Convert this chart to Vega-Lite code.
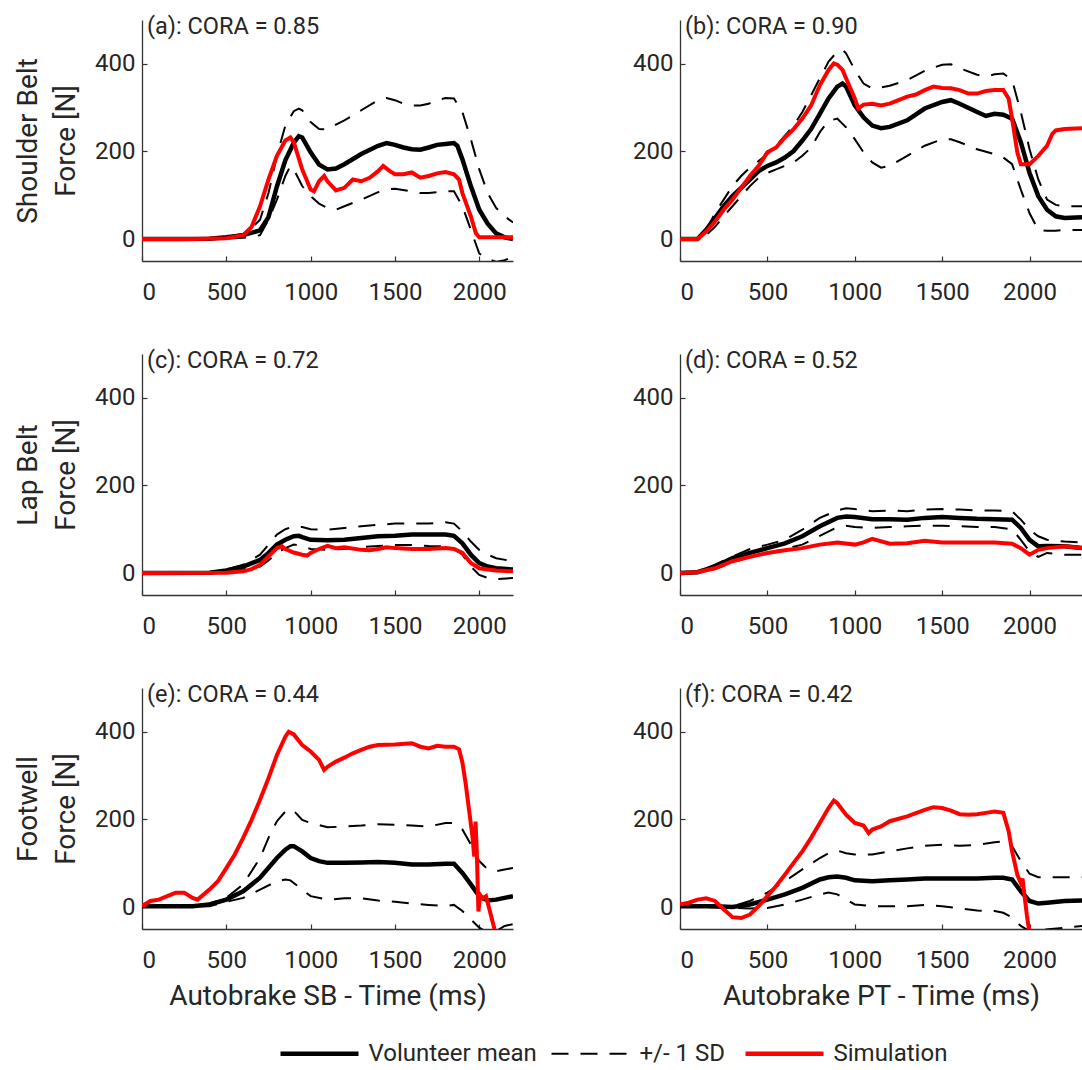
{
  "$schema": "https://vega.github.io/schema/vega-lite/v6.json",
  "padding": {"left": 14, "top": 15, "right": 0, "bottom": 0},
  "background": "white",
  "config": {
    "font": "Roboto",
    "view": {"stroke": null},
    "axis": {"grid": false, "format": "d", "domainColor": "#333333", "domainWidth": 1.3, "tickColor": "#333333", "tickWidth": 1.2, "tickSize": -5, "labelColor": "#262626", "labelFontSize": 24, "labelFont": "Roboto", "titleColor": "#262626", "titleFont": "Roboto", "titleFontSize": 28, "titleFontWeight": "normal"},
    "axisX": {"labelPadding": 24, "titlePadding": 10},
    "axisY": {"labelPadding": 12, "titlePadding": 14, "titleLineHeight": 38},
    "legend": {"title": null, "labelFontSize": 24, "labelFont": "Roboto", "labelColor": "#262626", "labelLimit": 300, "symbolType": "M-3.9,0H3.9", "symbolSize": 400, "columnPadding": 10, "labelOffset": 36.5}
  },
  "datasets": {
    "labels": [
      {"p": "a", "label": "(a): CORA = 0.85"},
      {"p": "b", "label": "(b): CORA = 0.90"},
      {"p": "c", "label": "(c): CORA = 0.72"},
      {"p": "d", "label": "(d): CORA = 0.52"},
      {"p": "e", "label": "(e): CORA = 0.44"},
      {"p": "f", "label": "(f): CORA = 0.42"}
    ],
    "forces": [
      {"p":"a","s":"sd","b":"hi","t":0,"f":0},{"p":"a","s":"sd","b":"hi","t":400,"f":2},{"p":"a","s":"sd","b":"hi","t":500,"f":5},{"p":"a","s":"sd","b":"hi","t":600,"f":12},{"p":"a","s":"sd","b":"hi","t":650,"f":25},{"p":"a","s":"sd","b":"hi","t":700,"f":44},{"p":"a","s":"sd","b":"hi","t":750,"f":105},{"p":"a","s":"sd","b":"hi","t":800,"f":190},{"p":"a","s":"sd","b":"hi","t":850,"f":259},{"p":"a","s":"sd","b":"hi","t":900,"f":292},{"p":"a","s":"sd","b":"hi","t":930,"f":298},{"p":"a","s":"sd","b":"hi","t":950,"f":294},{"p":"a","s":"sd","b":"hi","t":1000,"f":267},{"p":"a","s":"sd","b":"hi","t":1050,"f":251},{"p":"a","s":"sd","b":"hi","t":1100,"f":250},{"p":"a","s":"sd","b":"hi","t":1150,"f":261},{"p":"a","s":"sd","b":"hi","t":1200,"f":271},{"p":"a","s":"sd","b":"hi","t":1300,"f":294},{"p":"a","s":"sd","b":"hi","t":1400,"f":317},{"p":"a","s":"sd","b":"hi","t":1450,"f":322},{"p":"a","s":"sd","b":"hi","t":1500,"f":317},{"p":"a","s":"sd","b":"hi","t":1550,"f":309},{"p":"a","s":"sd","b":"hi","t":1600,"f":305},{"p":"a","s":"sd","b":"hi","t":1650,"f":305},{"p":"a","s":"sd","b":"hi","t":1700,"f":309},{"p":"a","s":"sd","b":"hi","t":1750,"f":317},{"p":"a","s":"sd","b":"hi","t":1800,"f":322},{"p":"a","s":"sd","b":"hi","t":1850,"f":321},{"p":"a","s":"sd","b":"hi","t":1900,"f":290},{"p":"a","s":"sd","b":"hi","t":1950,"f":228},{"p":"a","s":"sd","b":"hi","t":2000,"f":159},{"p":"a","s":"sd","b":"hi","t":2050,"f":105},{"p":"a","s":"sd","b":"hi","t":2100,"f":71},{"p":"a","s":"sd","b":"hi","t":2150,"f":52},{"p":"a","s":"sd","b":"hi","t":2200,"f":38},
      {"p":"a","s":"sd","b":"lo","t":0,"f":0},{"p":"a","s":"sd","b":"lo","t":500,"f":1},{"p":"a","s":"sd","b":"lo","t":600,"f":3},{"p":"a","s":"sd","b":"lo","t":650,"f":5},{"p":"a","s":"sd","b":"lo","t":700,"f":9},{"p":"a","s":"sd","b":"lo","t":750,"f":44},{"p":"a","s":"sd","b":"lo","t":800,"f":90},{"p":"a","s":"sd","b":"lo","t":850,"f":144},{"p":"a","s":"sd","b":"lo","t":880,"f":167},{"p":"a","s":"sd","b":"lo","t":900,"f":159},{"p":"a","s":"sd","b":"lo","t":950,"f":121},{"p":"a","s":"sd","b":"lo","t":1000,"f":98},{"p":"a","s":"sd","b":"lo","t":1050,"f":81},{"p":"a","s":"sd","b":"lo","t":1100,"f":71},{"p":"a","s":"sd","b":"lo","t":1150,"f":67},{"p":"a","s":"sd","b":"lo","t":1200,"f":75},{"p":"a","s":"sd","b":"lo","t":1300,"f":90},{"p":"a","s":"sd","b":"lo","t":1400,"f":107},{"p":"a","s":"sd","b":"lo","t":1450,"f":113},{"p":"a","s":"sd","b":"lo","t":1500,"f":115},{"p":"a","s":"sd","b":"lo","t":1600,"f":109},{"p":"a","s":"sd","b":"lo","t":1650,"f":105},{"p":"a","s":"sd","b":"lo","t":1700,"f":105},{"p":"a","s":"sd","b":"lo","t":1800,"f":109},{"p":"a","s":"sd","b":"lo","t":1850,"f":109},{"p":"a","s":"sd","b":"lo","t":1900,"f":75},{"p":"a","s":"sd","b":"lo","t":1950,"f":21},{"p":"a","s":"sd","b":"lo","t":2000,"f":-33},{"p":"a","s":"sd","b":"lo","t":2050,"f":-45},{"p":"a","s":"sd","b":"lo","t":2100,"f":-52},{"p":"a","s":"sd","b":"lo","t":2150,"f":-48},{"p":"a","s":"sd","b":"lo","t":2200,"f":-41},
      {"p":"a","s":"mean","t":0,"f":0},{"p":"a","s":"mean","t":200,"f":0},{"p":"a","s":"mean","t":400,"f":1},{"p":"a","s":"mean","t":500,"f":4},{"p":"a","s":"mean","t":600,"f":9},{"p":"a","s":"mean","t":700,"f":20},{"p":"a","s":"mean","t":750,"f":50},{"p":"a","s":"mean","t":800,"f":120},{"p":"a","s":"mean","t":850,"f":180},{"p":"a","s":"mean","t":900,"f":220},{"p":"a","s":"mean","t":930,"f":235},{"p":"a","s":"mean","t":950,"f":232},{"p":"a","s":"mean","t":1000,"f":198},{"p":"a","s":"mean","t":1050,"f":170},{"p":"a","s":"mean","t":1100,"f":159},{"p":"a","s":"mean","t":1150,"f":161},{"p":"a","s":"mean","t":1200,"f":171},{"p":"a","s":"mean","t":1300,"f":194},{"p":"a","s":"mean","t":1400,"f":213},{"p":"a","s":"mean","t":1450,"f":219},{"p":"a","s":"mean","t":1500,"f":215},{"p":"a","s":"mean","t":1550,"f":209},{"p":"a","s":"mean","t":1600,"f":205},{"p":"a","s":"mean","t":1650,"f":204},{"p":"a","s":"mean","t":1700,"f":209},{"p":"a","s":"mean","t":1750,"f":215},{"p":"a","s":"mean","t":1800,"f":217},{"p":"a","s":"mean","t":1850,"f":219},{"p":"a","s":"mean","t":1870,"f":213},{"p":"a","s":"mean","t":1900,"f":182},{"p":"a","s":"mean","t":1950,"f":121},{"p":"a","s":"mean","t":2000,"f":67},{"p":"a","s":"mean","t":2050,"f":35},{"p":"a","s":"mean","t":2100,"f":13},{"p":"a","s":"mean","t":2150,"f":4},{"p":"a","s":"mean","t":2200,"f":0},
      {"p":"a","s":"sim","t":0,"f":0},{"p":"a","s":"sim","t":300,"f":0},{"p":"a","s":"sim","t":500,"f":2},{"p":"a","s":"sim","t":600,"f":9},{"p":"a","s":"sim","t":650,"f":28},{"p":"a","s":"sim","t":700,"f":75},{"p":"a","s":"sim","t":750,"f":136},{"p":"a","s":"sim","t":800,"f":190},{"p":"a","s":"sim","t":850,"f":225},{"p":"a","s":"sim","t":880,"f":232},{"p":"a","s":"sim","t":900,"f":221},{"p":"a","s":"sim","t":950,"f":159},{"p":"a","s":"sim","t":1000,"f":113},{"p":"a","s":"sim","t":1020,"f":109},{"p":"a","s":"sim","t":1050,"f":132},{"p":"a","s":"sim","t":1080,"f":144},{"p":"a","s":"sim","t":1100,"f":132},{"p":"a","s":"sim","t":1150,"f":111},{"p":"a","s":"sim","t":1200,"f":117},{"p":"a","s":"sim","t":1250,"f":136},{"p":"a","s":"sim","t":1300,"f":132},{"p":"a","s":"sim","t":1350,"f":140},{"p":"a","s":"sim","t":1400,"f":155},{"p":"a","s":"sim","t":1430,"f":167},{"p":"a","s":"sim","t":1470,"f":155},{"p":"a","s":"sim","t":1500,"f":148},{"p":"a","s":"sim","t":1550,"f":148},{"p":"a","s":"sim","t":1600,"f":152},{"p":"a","s":"sim","t":1650,"f":140},{"p":"a","s":"sim","t":1700,"f":144},{"p":"a","s":"sim","t":1750,"f":150},{"p":"a","s":"sim","t":1800,"f":153},{"p":"a","s":"sim","t":1850,"f":148},{"p":"a","s":"sim","t":1880,"f":136},{"p":"a","s":"sim","t":1900,"f":105},{"p":"a","s":"sim","t":1950,"f":52},{"p":"a","s":"sim","t":1980,"f":13},{"p":"a","s":"sim","t":2000,"f":4},{"p":"a","s":"sim","t":2200,"f":4},

      {"p":"b","s":"sd","b":"hi","t":0,"f":0},{"p":"b","s":"sd","b":"hi","t":100,"f":0},{"p":"b","s":"sd","b":"hi","t":150,"f":21},{"p":"b","s":"sd","b":"hi","t":200,"f":59},{"p":"b","s":"sd","b":"hi","t":250,"f":90},{"p":"b","s":"sd","b":"hi","t":300,"f":121},{"p":"b","s":"sd","b":"hi","t":350,"f":144},{"p":"b","s":"sd","b":"hi","t":400,"f":163},{"p":"b","s":"sd","b":"hi","t":450,"f":178},{"p":"b","s":"sd","b":"hi","t":500,"f":194},{"p":"b","s":"sd","b":"hi","t":550,"f":213},{"p":"b","s":"sd","b":"hi","t":600,"f":236},{"p":"b","s":"sd","b":"hi","t":650,"f":259},{"p":"b","s":"sd","b":"hi","t":700,"f":290},{"p":"b","s":"sd","b":"hi","t":750,"f":328},{"p":"b","s":"sd","b":"hi","t":800,"f":367},{"p":"b","s":"sd","b":"hi","t":850,"f":405},{"p":"b","s":"sd","b":"hi","t":900,"f":428},{"p":"b","s":"sd","b":"hi","t":930,"f":432},{"p":"b","s":"sd","b":"hi","t":950,"f":424},{"p":"b","s":"sd","b":"hi","t":1000,"f":386},{"p":"b","s":"sd","b":"hi","t":1050,"f":355},{"p":"b","s":"sd","b":"hi","t":1100,"f":344},{"p":"b","s":"sd","b":"hi","t":1150,"f":346},{"p":"b","s":"sd","b":"hi","t":1200,"f":350},{"p":"b","s":"sd","b":"hi","t":1300,"f":363},{"p":"b","s":"sd","b":"hi","t":1400,"f":384},{"p":"b","s":"sd","b":"hi","t":1500,"f":398},{"p":"b","s":"sd","b":"hi","t":1550,"f":399},{"p":"b","s":"sd","b":"hi","t":1600,"f":390},{"p":"b","s":"sd","b":"hi","t":1700,"f":375},{"p":"b","s":"sd","b":"hi","t":1750,"f":371},{"p":"b","s":"sd","b":"hi","t":1800,"f":376},{"p":"b","s":"sd","b":"hi","t":1850,"f":378},{"p":"b","s":"sd","b":"hi","t":1900,"f":363},{"p":"b","s":"sd","b":"hi","t":1950,"f":290},{"p":"b","s":"sd","b":"hi","t":2000,"f":205},{"p":"b","s":"sd","b":"hi","t":2050,"f":136},{"p":"b","s":"sd","b":"hi","t":2100,"f":90},{"p":"b","s":"sd","b":"hi","t":2150,"f":78},{"p":"b","s":"sd","b":"hi","t":2200,"f":75},{"p":"b","s":"sd","b":"hi","t":2300,"f":75},
      {"p":"b","s":"sd","b":"lo","t":0,"f":0},{"p":"b","s":"sd","b":"lo","t":100,"f":0},{"p":"b","s":"sd","b":"lo","t":150,"f":9},{"p":"b","s":"sd","b":"lo","t":200,"f":28},{"p":"b","s":"sd","b":"lo","t":250,"f":52},{"p":"b","s":"sd","b":"lo","t":300,"f":75},{"p":"b","s":"sd","b":"lo","t":350,"f":98},{"p":"b","s":"sd","b":"lo","t":400,"f":121},{"p":"b","s":"sd","b":"lo","t":450,"f":140},{"p":"b","s":"sd","b":"lo","t":500,"f":151},{"p":"b","s":"sd","b":"lo","t":550,"f":159},{"p":"b","s":"sd","b":"lo","t":600,"f":167},{"p":"b","s":"sd","b":"lo","t":650,"f":175},{"p":"b","s":"sd","b":"lo","t":700,"f":190},{"p":"b","s":"sd","b":"lo","t":750,"f":209},{"p":"b","s":"sd","b":"lo","t":800,"f":244},{"p":"b","s":"sd","b":"lo","t":850,"f":270},{"p":"b","s":"sd","b":"lo","t":900,"f":275},{"p":"b","s":"sd","b":"lo","t":950,"f":255},{"p":"b","s":"sd","b":"lo","t":1000,"f":228},{"p":"b","s":"sd","b":"lo","t":1050,"f":198},{"p":"b","s":"sd","b":"lo","t":1100,"f":175},{"p":"b","s":"sd","b":"lo","t":1150,"f":163},{"p":"b","s":"sd","b":"lo","t":1200,"f":167},{"p":"b","s":"sd","b":"lo","t":1300,"f":190},{"p":"b","s":"sd","b":"lo","t":1400,"f":213},{"p":"b","s":"sd","b":"lo","t":1500,"f":228},{"p":"b","s":"sd","b":"lo","t":1550,"f":228},{"p":"b","s":"sd","b":"lo","t":1600,"f":221},{"p":"b","s":"sd","b":"lo","t":1700,"f":205},{"p":"b","s":"sd","b":"lo","t":1800,"f":194},{"p":"b","s":"sd","b":"lo","t":1850,"f":186},{"p":"b","s":"sd","b":"lo","t":1900,"f":171},{"p":"b","s":"sd","b":"lo","t":1950,"f":113},{"p":"b","s":"sd","b":"lo","t":2000,"f":59},{"p":"b","s":"sd","b":"lo","t":2050,"f":21},{"p":"b","s":"sd","b":"lo","t":2100,"f":19},{"p":"b","s":"sd","b":"lo","t":2150,"f":19},{"p":"b","s":"sd","b":"lo","t":2200,"f":21},{"p":"b","s":"sd","b":"lo","t":2300,"f":21},
      {"p":"b","s":"mean","t":0,"f":0},{"p":"b","s":"mean","t":100,"f":0},{"p":"b","s":"mean","t":150,"f":21},{"p":"b","s":"mean","t":200,"f":48},{"p":"b","s":"mean","t":250,"f":75},{"p":"b","s":"mean","t":300,"f":98},{"p":"b","s":"mean","t":350,"f":117},{"p":"b","s":"mean","t":400,"f":136},{"p":"b","s":"mean","t":450,"f":155},{"p":"b","s":"mean","t":500,"f":167},{"p":"b","s":"mean","t":550,"f":175},{"p":"b","s":"mean","t":600,"f":186},{"p":"b","s":"mean","t":650,"f":201},{"p":"b","s":"mean","t":700,"f":225},{"p":"b","s":"mean","t":750,"f":251},{"p":"b","s":"mean","t":800,"f":286},{"p":"b","s":"mean","t":850,"f":321},{"p":"b","s":"mean","t":900,"f":348},{"p":"b","s":"mean","t":930,"f":355},{"p":"b","s":"mean","t":950,"f":348},{"p":"b","s":"mean","t":1000,"f":305},{"p":"b","s":"mean","t":1050,"f":278},{"p":"b","s":"mean","t":1100,"f":259},{"p":"b","s":"mean","t":1150,"f":253},{"p":"b","s":"mean","t":1200,"f":256},{"p":"b","s":"mean","t":1300,"f":271},{"p":"b","s":"mean","t":1400,"f":298},{"p":"b","s":"mean","t":1500,"f":313},{"p":"b","s":"mean","t":1550,"f":317},{"p":"b","s":"mean","t":1600,"f":309},{"p":"b","s":"mean","t":1700,"f":290},{"p":"b","s":"mean","t":1750,"f":281},{"p":"b","s":"mean","t":1800,"f":286},{"p":"b","s":"mean","t":1850,"f":284},{"p":"b","s":"mean","t":1900,"f":275},{"p":"b","s":"mean","t":1950,"f":221},{"p":"b","s":"mean","t":2000,"f":151},{"p":"b","s":"mean","t":2050,"f":98},{"p":"b","s":"mean","t":2100,"f":67},{"p":"b","s":"mean","t":2150,"f":52},{"p":"b","s":"mean","t":2200,"f":48},{"p":"b","s":"mean","t":2300,"f":50},
      {"p":"b","s":"sim","t":0,"f":0},{"p":"b","s":"sim","t":100,"f":0},{"p":"b","s":"sim","t":150,"f":17},{"p":"b","s":"sim","t":200,"f":40},{"p":"b","s":"sim","t":250,"f":67},{"p":"b","s":"sim","t":300,"f":90},{"p":"b","s":"sim","t":350,"f":117},{"p":"b","s":"sim","t":400,"f":144},{"p":"b","s":"sim","t":450,"f":167},{"p":"b","s":"sim","t":500,"f":198},{"p":"b","s":"sim","t":550,"f":209},{"p":"b","s":"sim","t":600,"f":232},{"p":"b","s":"sim","t":650,"f":251},{"p":"b","s":"sim","t":700,"f":275},{"p":"b","s":"sim","t":750,"f":305},{"p":"b","s":"sim","t":800,"f":351},{"p":"b","s":"sim","t":850,"f":386},{"p":"b","s":"sim","t":880,"f":401},{"p":"b","s":"sim","t":900,"f":398},{"p":"b","s":"sim","t":930,"f":386},{"p":"b","s":"sim","t":950,"f":367},{"p":"b","s":"sim","t":1000,"f":321},{"p":"b","s":"sim","t":1020,"f":298},{"p":"b","s":"sim","t":1050,"f":307},{"p":"b","s":"sim","t":1100,"f":309},{"p":"b","s":"sim","t":1150,"f":305},{"p":"b","s":"sim","t":1200,"f":309},{"p":"b","s":"sim","t":1250,"f":317},{"p":"b","s":"sim","t":1300,"f":325},{"p":"b","s":"sim","t":1350,"f":330},{"p":"b","s":"sim","t":1400,"f":340},{"p":"b","s":"sim","t":1450,"f":348},{"p":"b","s":"sim","t":1500,"f":345},{"p":"b","s":"sim","t":1550,"f":344},{"p":"b","s":"sim","t":1600,"f":340},{"p":"b","s":"sim","t":1650,"f":332},{"p":"b","s":"sim","t":1700,"f":332},{"p":"b","s":"sim","t":1750,"f":338},{"p":"b","s":"sim","t":1800,"f":340},{"p":"b","s":"sim","t":1850,"f":340},{"p":"b","s":"sim","t":1880,"f":321},{"p":"b","s":"sim","t":1900,"f":275},{"p":"b","s":"sim","t":1930,"f":198},{"p":"b","s":"sim","t":1950,"f":171},{"p":"b","s":"sim","t":2000,"f":171},{"p":"b","s":"sim","t":2050,"f":190},{"p":"b","s":"sim","t":2100,"f":213},{"p":"b","s":"sim","t":2130,"f":240},{"p":"b","s":"sim","t":2150,"f":248},{"p":"b","s":"sim","t":2200,"f":251},{"p":"b","s":"sim","t":2300,"f":253},

      {"p":"c","s":"sd","b":"hi","t":0,"f":0},{"p":"c","s":"sd","b":"hi","t":400,"f":2},{"p":"c","s":"sd","b":"hi","t":500,"f":8},{"p":"c","s":"sd","b":"hi","t":600,"f":19},{"p":"c","s":"sd","b":"hi","t":700,"f":42},{"p":"c","s":"sd","b":"hi","t":750,"f":65},{"p":"c","s":"sd","b":"hi","t":800,"f":88},{"p":"c","s":"sd","b":"hi","t":850,"f":100},{"p":"c","s":"sd","b":"hi","t":900,"f":107},{"p":"c","s":"sd","b":"hi","t":950,"f":105},{"p":"c","s":"sd","b":"hi","t":1000,"f":100},{"p":"c","s":"sd","b":"hi","t":1100,"f":99},{"p":"c","s":"sd","b":"hi","t":1200,"f":103},{"p":"c","s":"sd","b":"hi","t":1300,"f":107},{"p":"c","s":"sd","b":"hi","t":1400,"f":110},{"p":"c","s":"sd","b":"hi","t":1500,"f":113},{"p":"c","s":"sd","b":"hi","t":1600,"f":113},{"p":"c","s":"sd","b":"hi","t":1700,"f":113},{"p":"c","s":"sd","b":"hi","t":1800,"f":116},{"p":"c","s":"sd","b":"hi","t":1850,"f":113},{"p":"c","s":"sd","b":"hi","t":1900,"f":95},{"p":"c","s":"sd","b":"hi","t":1950,"f":72},{"p":"c","s":"sd","b":"hi","t":2000,"f":53},{"p":"c","s":"sd","b":"hi","t":2050,"f":42},{"p":"c","s":"sd","b":"hi","t":2100,"f":34},{"p":"c","s":"sd","b":"hi","t":2200,"f":27},
      {"p":"c","s":"sd","b":"lo","t":0,"f":0},{"p":"c","s":"sd","b":"lo","t":500,"f":3},{"p":"c","s":"sd","b":"lo","t":600,"f":8},{"p":"c","s":"sd","b":"lo","t":700,"f":15},{"p":"c","s":"sd","b":"lo","t":750,"f":29},{"p":"c","s":"sd","b":"lo","t":800,"f":46},{"p":"c","s":"sd","b":"lo","t":850,"f":57},{"p":"c","s":"sd","b":"lo","t":900,"f":65},{"p":"c","s":"sd","b":"lo","t":950,"f":62},{"p":"c","s":"sd","b":"lo","t":1000,"f":55},{"p":"c","s":"sd","b":"lo","t":1100,"f":53},{"p":"c","s":"sd","b":"lo","t":1200,"f":55},{"p":"c","s":"sd","b":"lo","t":1300,"f":59},{"p":"c","s":"sd","b":"lo","t":1400,"f":62},{"p":"c","s":"sd","b":"lo","t":1500,"f":64},{"p":"c","s":"sd","b":"lo","t":1600,"f":64},{"p":"c","s":"sd","b":"lo","t":1700,"f":62},{"p":"c","s":"sd","b":"lo","t":1800,"f":61},{"p":"c","s":"sd","b":"lo","t":1850,"f":57},{"p":"c","s":"sd","b":"lo","t":1900,"f":42},{"p":"c","s":"sd","b":"lo","t":1950,"f":15},{"p":"c","s":"sd","b":"lo","t":2000,"f":-4},{"p":"c","s":"sd","b":"lo","t":2050,"f":-11},{"p":"c","s":"sd","b":"lo","t":2100,"f":-14},{"p":"c","s":"sd","b":"lo","t":2200,"f":-11},
      {"p":"c","s":"mean","t":0,"f":0},{"p":"c","s":"mean","t":400,"f":1},{"p":"c","s":"mean","t":500,"f":6},{"p":"c","s":"mean","t":600,"f":15},{"p":"c","s":"mean","t":700,"f":30},{"p":"c","s":"mean","t":750,"f":46},{"p":"c","s":"mean","t":800,"f":65},{"p":"c","s":"mean","t":850,"f":76},{"p":"c","s":"mean","t":900,"f":84},{"p":"c","s":"mean","t":930,"f":85},{"p":"c","s":"mean","t":950,"f":82},{"p":"c","s":"mean","t":1000,"f":76},{"p":"c","s":"mean","t":1100,"f":75},{"p":"c","s":"mean","t":1200,"f":76},{"p":"c","s":"mean","t":1300,"f":80},{"p":"c","s":"mean","t":1400,"f":84},{"p":"c","s":"mean","t":1500,"f":85},{"p":"c","s":"mean","t":1600,"f":88},{"p":"c","s":"mean","t":1700,"f":88},{"p":"c","s":"mean","t":1800,"f":88},{"p":"c","s":"mean","t":1850,"f":85},{"p":"c","s":"mean","t":1900,"f":68},{"p":"c","s":"mean","t":1950,"f":42},{"p":"c","s":"mean","t":2000,"f":23},{"p":"c","s":"mean","t":2050,"f":15},{"p":"c","s":"mean","t":2100,"f":11},{"p":"c","s":"mean","t":2200,"f":8},
      {"p":"c","s":"sim","t":0,"f":0},{"p":"c","s":"sim","t":500,"f":1},{"p":"c","s":"sim","t":600,"f":4},{"p":"c","s":"sim","t":650,"f":9},{"p":"c","s":"sim","t":700,"f":19},{"p":"c","s":"sim","t":750,"f":38},{"p":"c","s":"sim","t":800,"f":57},{"p":"c","s":"sim","t":830,"f":61},{"p":"c","s":"sim","t":850,"f":55},{"p":"c","s":"sim","t":900,"f":47},{"p":"c","s":"sim","t":950,"f":42},{"p":"c","s":"sim","t":980,"f":40},{"p":"c","s":"sim","t":1000,"f":46},{"p":"c","s":"sim","t":1050,"f":55},{"p":"c","s":"sim","t":1100,"f":62},{"p":"c","s":"sim","t":1150,"f":57},{"p":"c","s":"sim","t":1200,"f":59},{"p":"c","s":"sim","t":1300,"f":53},{"p":"c","s":"sim","t":1350,"f":52},{"p":"c","s":"sim","t":1400,"f":55},{"p":"c","s":"sim","t":1450,"f":59},{"p":"c","s":"sim","t":1500,"f":57},{"p":"c","s":"sim","t":1600,"f":55},{"p":"c","s":"sim","t":1700,"f":55},{"p":"c","s":"sim","t":1800,"f":57},{"p":"c","s":"sim","t":1850,"f":55},{"p":"c","s":"sim","t":1900,"f":46},{"p":"c","s":"sim","t":1950,"f":23},{"p":"c","s":"sim","t":2000,"f":11},{"p":"c","s":"sim","t":2050,"f":8},{"p":"c","s":"sim","t":2100,"f":6},{"p":"c","s":"sim","t":2200,"f":4},

      {"p":"d","s":"sd","b":"hi","t":0,"f":0},{"p":"d","s":"sd","b":"hi","t":100,"f":3},{"p":"d","s":"sd","b":"hi","t":200,"f":19},{"p":"d","s":"sd","b":"hi","t":300,"f":38},{"p":"d","s":"sd","b":"hi","t":400,"f":55},{"p":"d","s":"sd","b":"hi","t":500,"f":65},{"p":"d","s":"sd","b":"hi","t":600,"f":76},{"p":"d","s":"sd","b":"hi","t":700,"f":99},{"p":"d","s":"sd","b":"hi","t":800,"f":126},{"p":"d","s":"sd","b":"hi","t":900,"f":143},{"p":"d","s":"sd","b":"hi","t":950,"f":148},{"p":"d","s":"sd","b":"hi","t":1000,"f":146},{"p":"d","s":"sd","b":"hi","t":1100,"f":141},{"p":"d","s":"sd","b":"hi","t":1200,"f":143},{"p":"d","s":"sd","b":"hi","t":1300,"f":141},{"p":"d","s":"sd","b":"hi","t":1400,"f":145},{"p":"d","s":"sd","b":"hi","t":1500,"f":146},{"p":"d","s":"sd","b":"hi","t":1600,"f":145},{"p":"d","s":"sd","b":"hi","t":1700,"f":143},{"p":"d","s":"sd","b":"hi","t":1800,"f":143},{"p":"d","s":"sd","b":"hi","t":1900,"f":141},{"p":"d","s":"sd","b":"hi","t":1950,"f":122},{"p":"d","s":"sd","b":"hi","t":2000,"f":99},{"p":"d","s":"sd","b":"hi","t":2050,"f":84},{"p":"d","s":"sd","b":"hi","t":2100,"f":76},{"p":"d","s":"sd","b":"hi","t":2200,"f":72},{"p":"d","s":"sd","b":"hi","t":2300,"f":70},
      {"p":"d","s":"sd","b":"lo","t":0,"f":0},{"p":"d","s":"sd","b":"lo","t":100,"f":1},{"p":"d","s":"sd","b":"lo","t":200,"f":9},{"p":"d","s":"sd","b":"lo","t":300,"f":24},{"p":"d","s":"sd","b":"lo","t":400,"f":37},{"p":"d","s":"sd","b":"lo","t":500,"f":46},{"p":"d","s":"sd","b":"lo","t":600,"f":55},{"p":"d","s":"sd","b":"lo","t":700,"f":65},{"p":"d","s":"sd","b":"lo","t":800,"f":85},{"p":"d","s":"sd","b":"lo","t":900,"f":105},{"p":"d","s":"sd","b":"lo","t":950,"f":108},{"p":"d","s":"sd","b":"lo","t":1000,"f":105},{"p":"d","s":"sd","b":"lo","t":1100,"f":103},{"p":"d","s":"sd","b":"lo","t":1200,"f":105},{"p":"d","s":"sd","b":"lo","t":1300,"f":107},{"p":"d","s":"sd","b":"lo","t":1400,"f":108},{"p":"d","s":"sd","b":"lo","t":1500,"f":108},{"p":"d","s":"sd","b":"lo","t":1600,"f":107},{"p":"d","s":"sd","b":"lo","t":1700,"f":105},{"p":"d","s":"sd","b":"lo","t":1800,"f":105},{"p":"d","s":"sd","b":"lo","t":1900,"f":100},{"p":"d","s":"sd","b":"lo","t":1950,"f":76},{"p":"d","s":"sd","b":"lo","t":2000,"f":49},{"p":"d","s":"sd","b":"lo","t":2050,"f":37},{"p":"d","s":"sd","b":"lo","t":2100,"f":46},{"p":"d","s":"sd","b":"lo","t":2200,"f":42},{"p":"d","s":"sd","b":"lo","t":2300,"f":42},
      {"p":"d","s":"mean","t":0,"f":0},{"p":"d","s":"mean","t":100,"f":2},{"p":"d","s":"mean","t":200,"f":15},{"p":"d","s":"mean","t":300,"f":34},{"p":"d","s":"mean","t":400,"f":46},{"p":"d","s":"mean","t":500,"f":57},{"p":"d","s":"mean","t":600,"f":68},{"p":"d","s":"mean","t":700,"f":84},{"p":"d","s":"mean","t":800,"f":107},{"p":"d","s":"mean","t":900,"f":126},{"p":"d","s":"mean","t":950,"f":129},{"p":"d","s":"mean","t":1000,"f":128},{"p":"d","s":"mean","t":1100,"f":123},{"p":"d","s":"mean","t":1200,"f":123},{"p":"d","s":"mean","t":1300,"f":122},{"p":"d","s":"mean","t":1400,"f":126},{"p":"d","s":"mean","t":1500,"f":128},{"p":"d","s":"mean","t":1600,"f":126},{"p":"d","s":"mean","t":1700,"f":124},{"p":"d","s":"mean","t":1800,"f":123},{"p":"d","s":"mean","t":1900,"f":122},{"p":"d","s":"mean","t":1950,"f":103},{"p":"d","s":"mean","t":2000,"f":76},{"p":"d","s":"mean","t":2050,"f":61},{"p":"d","s":"mean","t":2100,"f":62},{"p":"d","s":"mean","t":2200,"f":61},{"p":"d","s":"mean","t":2300,"f":57},
      {"p":"d","s":"sim","t":0,"f":0},{"p":"d","s":"sim","t":100,"f":2},{"p":"d","s":"sim","t":200,"f":11},{"p":"d","s":"sim","t":300,"f":27},{"p":"d","s":"sim","t":400,"f":37},{"p":"d","s":"sim","t":500,"f":46},{"p":"d","s":"sim","t":600,"f":52},{"p":"d","s":"sim","t":700,"f":57},{"p":"d","s":"sim","t":800,"f":65},{"p":"d","s":"sim","t":900,"f":70},{"p":"d","s":"sim","t":1000,"f":65},{"p":"d","s":"sim","t":1050,"f":70},{"p":"d","s":"sim","t":1100,"f":78},{"p":"d","s":"sim","t":1200,"f":67},{"p":"d","s":"sim","t":1300,"f":68},{"p":"d","s":"sim","t":1400,"f":74},{"p":"d","s":"sim","t":1500,"f":70},{"p":"d","s":"sim","t":1600,"f":70},{"p":"d","s":"sim","t":1700,"f":70},{"p":"d","s":"sim","t":1800,"f":70},{"p":"d","s":"sim","t":1900,"f":67},{"p":"d","s":"sim","t":1950,"f":57},{"p":"d","s":"sim","t":2000,"f":42},{"p":"d","s":"sim","t":2050,"f":53},{"p":"d","s":"sim","t":2100,"f":57},{"p":"d","s":"sim","t":2200,"f":61},{"p":"d","s":"sim","t":2300,"f":57},

      {"p":"e","s":"sd","b":"hi","t":0,"f":2},{"p":"e","s":"sd","b":"hi","t":300,"f":3},{"p":"e","s":"sd","b":"hi","t":400,"f":8},{"p":"e","s":"sd","b":"hi","t":500,"f":21},{"p":"e","s":"sd","b":"hi","t":600,"f":52},{"p":"e","s":"sd","b":"hi","t":700,"f":112},{"p":"e","s":"sd","b":"hi","t":750,"f":158},{"p":"e","s":"sd","b":"hi","t":800,"f":196},{"p":"e","s":"sd","b":"hi","t":850,"f":218},{"p":"e","s":"sd","b":"hi","t":880,"f":224},{"p":"e","s":"sd","b":"hi","t":900,"f":220},{"p":"e","s":"sd","b":"hi","t":950,"f":199},{"p":"e","s":"sd","b":"hi","t":1000,"f":192},{"p":"e","s":"sd","b":"hi","t":1100,"f":182},{"p":"e","s":"sd","b":"hi","t":1200,"f":184},{"p":"e","s":"sd","b":"hi","t":1300,"f":186},{"p":"e","s":"sd","b":"hi","t":1400,"f":189},{"p":"e","s":"sd","b":"hi","t":1500,"f":188},{"p":"e","s":"sd","b":"hi","t":1600,"f":186},{"p":"e","s":"sd","b":"hi","t":1700,"f":184},{"p":"e","s":"sd","b":"hi","t":1800,"f":192},{"p":"e","s":"sd","b":"hi","t":1850,"f":192},{"p":"e","s":"sd","b":"hi","t":1900,"f":177},{"p":"e","s":"sd","b":"hi","t":1950,"f":143},{"p":"e","s":"sd","b":"hi","t":2000,"f":105},{"p":"e","s":"sd","b":"hi","t":2050,"f":86},{"p":"e","s":"sd","b":"hi","t":2100,"f":82},{"p":"e","s":"sd","b":"hi","t":2150,"f":86},{"p":"e","s":"sd","b":"hi","t":2200,"f":89},
      {"p":"e","s":"sd","b":"lo","t":0,"f":2},{"p":"e","s":"sd","b":"lo","t":400,"f":2},{"p":"e","s":"sd","b":"lo","t":500,"f":12},{"p":"e","s":"sd","b":"lo","t":600,"f":21},{"p":"e","s":"sd","b":"lo","t":700,"f":40},{"p":"e","s":"sd","b":"lo","t":800,"f":59},{"p":"e","s":"sd","b":"lo","t":850,"f":63},{"p":"e","s":"sd","b":"lo","t":880,"f":61},{"p":"e","s":"sd","b":"lo","t":900,"f":55},{"p":"e","s":"sd","b":"lo","t":950,"f":40},{"p":"e","s":"sd","b":"lo","t":1000,"f":25},{"p":"e","s":"sd","b":"lo","t":1100,"f":17},{"p":"e","s":"sd","b":"lo","t":1200,"f":20},{"p":"e","s":"sd","b":"lo","t":1300,"f":20},{"p":"e","s":"sd","b":"lo","t":1400,"f":15},{"p":"e","s":"sd","b":"lo","t":1500,"f":12},{"p":"e","s":"sd","b":"lo","t":1600,"f":8},{"p":"e","s":"sd","b":"lo","t":1700,"f":5},{"p":"e","s":"sd","b":"lo","t":1800,"f":2},{"p":"e","s":"sd","b":"lo","t":1850,"f":5},{"p":"e","s":"sd","b":"lo","t":1900,"f":-9},{"p":"e","s":"sd","b":"lo","t":1950,"f":-28},{"p":"e","s":"sd","b":"lo","t":2000,"f":-47},{"p":"e","s":"sd","b":"lo","t":2050,"f":-58},{"p":"e","s":"sd","b":"lo","t":2100,"f":-55},{"p":"e","s":"sd","b":"lo","t":2150,"f":-43},{"p":"e","s":"sd","b":"lo","t":2200,"f":-39},
      {"p":"e","s":"mean","t":0,"f":2},{"p":"e","s":"mean","t":300,"f":2},{"p":"e","s":"mean","t":400,"f":6},{"p":"e","s":"mean","t":500,"f":17},{"p":"e","s":"mean","t":600,"f":36},{"p":"e","s":"mean","t":700,"f":67},{"p":"e","s":"mean","t":800,"f":112},{"p":"e","s":"mean","t":850,"f":131},{"p":"e","s":"mean","t":880,"f":139},{"p":"e","s":"mean","t":900,"f":139},{"p":"e","s":"mean","t":950,"f":127},{"p":"e","s":"mean","t":1000,"f":112},{"p":"e","s":"mean","t":1050,"f":105},{"p":"e","s":"mean","t":1100,"f":101},{"p":"e","s":"mean","t":1200,"f":101},{"p":"e","s":"mean","t":1300,"f":102},{"p":"e","s":"mean","t":1400,"f":103},{"p":"e","s":"mean","t":1500,"f":101},{"p":"e","s":"mean","t":1600,"f":97},{"p":"e","s":"mean","t":1700,"f":97},{"p":"e","s":"mean","t":1800,"f":99},{"p":"e","s":"mean","t":1850,"f":99},{"p":"e","s":"mean","t":1900,"f":78},{"p":"e","s":"mean","t":1950,"f":52},{"p":"e","s":"mean","t":2000,"f":25},{"p":"e","s":"mean","t":2050,"f":15},{"p":"e","s":"mean","t":2100,"f":17},{"p":"e","s":"mean","t":2150,"f":21},{"p":"e","s":"mean","t":2200,"f":25},
      {"p":"e","s":"sim","t":0,"f":2},{"p":"e","s":"sim","t":50,"f":14},{"p":"e","s":"sim","t":100,"f":17},{"p":"e","s":"sim","t":150,"f":25},{"p":"e","s":"sim","t":200,"f":33},{"p":"e","s":"sim","t":250,"f":33},{"p":"e","s":"sim","t":300,"f":21},{"p":"e","s":"sim","t":330,"f":17},{"p":"e","s":"sim","t":400,"f":40},{"p":"e","s":"sim","t":450,"f":59},{"p":"e","s":"sim","t":500,"f":89},{"p":"e","s":"sim","t":550,"f":120},{"p":"e","s":"sim","t":600,"f":158},{"p":"e","s":"sim","t":650,"f":199},{"p":"e","s":"sim","t":700,"f":245},{"p":"e","s":"sim","t":750,"f":294},{"p":"e","s":"sim","t":800,"f":347},{"p":"e","s":"sim","t":850,"f":389},{"p":"e","s":"sim","t":870,"f":400},{"p":"e","s":"sim","t":900,"f":394},{"p":"e","s":"sim","t":950,"f":370},{"p":"e","s":"sim","t":1000,"f":355},{"p":"e","s":"sim","t":1050,"f":336},{"p":"e","s":"sim","t":1080,"f":313},{"p":"e","s":"sim","t":1100,"f":320},{"p":"e","s":"sim","t":1150,"f":332},{"p":"e","s":"sim","t":1200,"f":341},{"p":"e","s":"sim","t":1250,"f":351},{"p":"e","s":"sim","t":1300,"f":359},{"p":"e","s":"sim","t":1350,"f":366},{"p":"e","s":"sim","t":1400,"f":370},{"p":"e","s":"sim","t":1500,"f":371},{"p":"e","s":"sim","t":1600,"f":374},{"p":"e","s":"sim","t":1650,"f":366},{"p":"e","s":"sim","t":1700,"f":362},{"p":"e","s":"sim","t":1750,"f":368},{"p":"e","s":"sim","t":1800,"f":366},{"p":"e","s":"sim","t":1850,"f":366},{"p":"e","s":"sim","t":1880,"f":360},{"p":"e","s":"sim","t":1900,"f":330},{"p":"e","s":"sim","t":1920,"f":280},{"p":"e","s":"sim","t":1940,"f":220},{"p":"e","s":"sim","t":1960,"f":160},{"p":"e","s":"sim","t":1970,"f":115},{"p":"e","s":"sim","t":1978,"f":195},{"p":"e","s":"sim","t":1985,"f":130},{"p":"e","s":"sim","t":1995,"f":-10},{"p":"e","s":"sim","t":2005,"f":28},{"p":"e","s":"sim","t":2020,"f":20},{"p":"e","s":"sim","t":2040,"f":25},{"p":"e","s":"sim","t":2060,"f":-5},{"p":"e","s":"sim","t":2090,"f":-50},{"p":"e","s":"sim","t":2110,"f":-75},

      {"p":"f","s":"sd","b":"hi","t":0,"f":2},{"p":"f","s":"sd","b":"hi","t":300,"f":2},{"p":"f","s":"sd","b":"hi","t":400,"f":14},{"p":"f","s":"sd","b":"hi","t":500,"f":33},{"p":"f","s":"sd","b":"hi","t":600,"f":59},{"p":"f","s":"sd","b":"hi","t":700,"f":86},{"p":"f","s":"sd","b":"hi","t":800,"f":112},{"p":"f","s":"sd","b":"hi","t":850,"f":123},{"p":"f","s":"sd","b":"hi","t":900,"f":129},{"p":"f","s":"sd","b":"hi","t":950,"f":123},{"p":"f","s":"sd","b":"hi","t":1000,"f":120},{"p":"f","s":"sd","b":"hi","t":1100,"f":120},{"p":"f","s":"sd","b":"hi","t":1200,"f":127},{"p":"f","s":"sd","b":"hi","t":1300,"f":134},{"p":"f","s":"sd","b":"hi","t":1400,"f":140},{"p":"f","s":"sd","b":"hi","t":1500,"f":142},{"p":"f","s":"sd","b":"hi","t":1600,"f":140},{"p":"f","s":"sd","b":"hi","t":1700,"f":142},{"p":"f","s":"sd","b":"hi","t":1800,"f":148},{"p":"f","s":"sd","b":"hi","t":1850,"f":150},{"p":"f","s":"sd","b":"hi","t":1900,"f":139},{"p":"f","s":"sd","b":"hi","t":1950,"f":105},{"p":"f","s":"sd","b":"hi","t":2000,"f":76},{"p":"f","s":"sd","b":"hi","t":2050,"f":68},{"p":"f","s":"sd","b":"hi","t":2100,"f":68},{"p":"f","s":"sd","b":"hi","t":2300,"f":68},
      {"p":"f","s":"sd","b":"lo","t":0,"f":2},{"p":"f","s":"sd","b":"lo","t":300,"f":-2},{"p":"f","s":"sd","b":"lo","t":400,"f":-3},{"p":"f","s":"sd","b":"lo","t":500,"f":-2},{"p":"f","s":"sd","b":"lo","t":600,"f":6},{"p":"f","s":"sd","b":"lo","t":700,"f":17},{"p":"f","s":"sd","b":"lo","t":800,"f":29},{"p":"f","s":"sd","b":"lo","t":850,"f":33},{"p":"f","s":"sd","b":"lo","t":900,"f":29},{"p":"f","s":"sd","b":"lo","t":950,"f":17},{"p":"f","s":"sd","b":"lo","t":1000,"f":6},{"p":"f","s":"sd","b":"lo","t":1100,"f":2},{"p":"f","s":"sd","b":"lo","t":1200,"f":2},{"p":"f","s":"sd","b":"lo","t":1300,"f":2},{"p":"f","s":"sd","b":"lo","t":1400,"f":5},{"p":"f","s":"sd","b":"lo","t":1500,"f":2},{"p":"f","s":"sd","b":"lo","t":1600,"f":-3},{"p":"f","s":"sd","b":"lo","t":1700,"f":-8},{"p":"f","s":"sd","b":"lo","t":1800,"f":-9},{"p":"f","s":"sd","b":"lo","t":1850,"f":-13},{"p":"f","s":"sd","b":"lo","t":1900,"f":-24},{"p":"f","s":"sd","b":"lo","t":1950,"f":-43},{"p":"f","s":"sd","b":"lo","t":2000,"f":-55},{"p":"f","s":"sd","b":"lo","t":2200,"f":-47},{"p":"f","s":"sd","b":"lo","t":2300,"f":-43},
      {"p":"f","s":"mean","t":0,"f":2},{"p":"f","s":"mean","t":200,"f":2},{"p":"f","s":"mean","t":300,"f":0},{"p":"f","s":"mean","t":400,"f":6},{"p":"f","s":"mean","t":500,"f":17},{"p":"f","s":"mean","t":600,"f":29},{"p":"f","s":"mean","t":700,"f":44},{"p":"f","s":"mean","t":800,"f":63},{"p":"f","s":"mean","t":850,"f":68},{"p":"f","s":"mean","t":900,"f":70},{"p":"f","s":"mean","t":950,"f":67},{"p":"f","s":"mean","t":1000,"f":61},{"p":"f","s":"mean","t":1100,"f":59},{"p":"f","s":"mean","t":1200,"f":61},{"p":"f","s":"mean","t":1300,"f":63},{"p":"f","s":"mean","t":1400,"f":65},{"p":"f","s":"mean","t":1500,"f":65},{"p":"f","s":"mean","t":1600,"f":65},{"p":"f","s":"mean","t":1700,"f":65},{"p":"f","s":"mean","t":1800,"f":67},{"p":"f","s":"mean","t":1850,"f":67},{"p":"f","s":"mean","t":1900,"f":63},{"p":"f","s":"mean","t":1950,"f":36},{"p":"f","s":"mean","t":2000,"f":14},{"p":"f","s":"mean","t":2050,"f":8},{"p":"f","s":"mean","t":2100,"f":10},{"p":"f","s":"mean","t":2200,"f":14},{"p":"f","s":"mean","t":2300,"f":15},
      {"p":"f","s":"sim","t":0,"f":6},{"p":"f","s":"sim","t":50,"f":10},{"p":"f","s":"sim","t":100,"f":17},{"p":"f","s":"sim","t":150,"f":20},{"p":"f","s":"sim","t":200,"f":14},{"p":"f","s":"sim","t":250,"f":-5},{"p":"f","s":"sim","t":300,"f":-23},{"p":"f","s":"sim","t":350,"f":-25},{"p":"f","s":"sim","t":400,"f":-17},{"p":"f","s":"sim","t":450,"f":2},{"p":"f","s":"sim","t":500,"f":25},{"p":"f","s":"sim","t":550,"f":48},{"p":"f","s":"sim","t":600,"f":74},{"p":"f","s":"sim","t":650,"f":101},{"p":"f","s":"sim","t":700,"f":127},{"p":"f","s":"sim","t":750,"f":158},{"p":"f","s":"sim","t":800,"f":192},{"p":"f","s":"sim","t":850,"f":226},{"p":"f","s":"sim","t":880,"f":243},{"p":"f","s":"sim","t":900,"f":237},{"p":"f","s":"sim","t":950,"f":211},{"p":"f","s":"sim","t":1000,"f":192},{"p":"f","s":"sim","t":1050,"f":186},{"p":"f","s":"sim","t":1080,"f":169},{"p":"f","s":"sim","t":1100,"f":177},{"p":"f","s":"sim","t":1150,"f":184},{"p":"f","s":"sim","t":1200,"f":196},{"p":"f","s":"sim","t":1300,"f":207},{"p":"f","s":"sim","t":1400,"f":222},{"p":"f","s":"sim","t":1450,"f":228},{"p":"f","s":"sim","t":1500,"f":226},{"p":"f","s":"sim","t":1550,"f":220},{"p":"f","s":"sim","t":1600,"f":212},{"p":"f","s":"sim","t":1650,"f":211},{"p":"f","s":"sim","t":1700,"f":212},{"p":"f","s":"sim","t":1750,"f":215},{"p":"f","s":"sim","t":1800,"f":218},{"p":"f","s":"sim","t":1850,"f":215},{"p":"f","s":"sim","t":1880,"f":174},{"p":"f","s":"sim","t":1900,"f":127},{"p":"f","s":"sim","t":1930,"f":74},{"p":"f","s":"sim","t":1950,"f":55},{"p":"f","s":"sim","t":1960,"f":65},{"p":"f","s":"sim","t":1970,"f":30},{"p":"f","s":"sim","t":1985,"f":-20},{"p":"f","s":"sim","t":2000,"f":-60}
    ]
  },
  "columns": 2,
  "bounds": "flush",
  "spacing": {"row": 93, "column": 167},
  "concat": [
    {
      "width": 371, "height": 241,
      "layer": [
        {
          "encoding": {
            "x": {"field": "t", "type": "quantitative", "scale": {"domain": [0, 2200], "nice": false, "zero": false}, "axis": {"values": [0, 500, 1000, 1500, 2000], "title": null}},
            "y": {"field": "f", "type": "quantitative", "scale": {"domain": [-50, 500], "nice": false}, "axis": {"values": [0, 200, 400], "title": ["Shoulder Belt", "Force [N]"]}}
          },
          "layer": [
            {"data": {"name": "forces"}, "transform": [{"filter": "datum.p == 'a' && datum.s == 'sd'"}],
             "mark": {"type": "line", "clip": true, "strokeWidth": 2},
             "encoding": {
               "detail": {"field": "b"},
               "color": {"field": "s", "type": "nominal", "scale": {"domain": ["mean", "sd", "sim"], "range": ["#000000", "#000000", "#ff0000"]}, "legend": {"orient": "none", "legendX": 165, "legendY": 1021, "direction": "horizontal", "labelExpr": "datum.label == 'mean' ? 'Volunteer mean' : datum.label == 'sd' ? '+/- 1 SD' : 'Simulation'", "encode": {"symbols": {"update": {"strokeWidth": {"signal": "(datum.value == 'sd' ? 2 : 4.5)"}}}}}},
               "strokeDash": {"field": "s", "type": "nominal", "scale": {"domain": ["mean", "sd", "sim"], "range": [[1, 0], [17, 12], [1, 0]]}, "legend": {"orient": "none", "legendX": 165, "legendY": 1021, "direction": "horizontal", "labelExpr": "datum.label == 'mean' ? 'Volunteer mean' : datum.label == 'sd' ? '+/- 1 SD' : 'Simulation'", "encode": {"symbols": {"update": {"strokeWidth": {"signal": "(datum.value == 'sd' ? 2 : 4.5)"}}}}}}
             }},
            {"data": {"name": "forces"}, "transform": [{"filter": "datum.p == 'a' && datum.s == 'mean'"}],
             "mark": {"type": "line", "clip": true, "strokeWidth": 4.5, "color": "#000000"}},
            {"data": {"name": "forces"}, "transform": [{"filter": "datum.p == 'a' && datum.s == 'sim'"}],
             "mark": {"type": "line", "clip": true, "strokeWidth": 4, "color": "#ff0000"}}
          ]
        },
        {"data": {"name": "labels"}, "transform": [{"filter": "datum.p == 'a'"}],
         "mark": {"type": "text", "align": "left", "baseline": "top", "dx": 5, "dy": -5, "fontSize": 23.5, "color": "#262626"},
         "encoding": {"x": {"datum": 0, "type": "quantitative"}, "y": {"datum": 500, "type": "quantitative"}, "text": {"field": "label"}}}
      ]
    },
    {
      "width": 402, "height": 241,
      "layer": [
        {
          "encoding": {
            "x": {"field": "t", "type": "quantitative", "scale": {"domain": [0, 2300], "nice": false, "zero": false}, "axis": {"values": [0, 500, 1000, 1500, 2000], "title": null}},
            "y": {"field": "f", "type": "quantitative", "scale": {"domain": [-50, 500], "nice": false}, "axis": {"values": [0, 200, 400], "title": null}}
          },
          "layer": [
            {"data": {"name": "forces"}, "transform": [{"filter": "datum.p == 'b' && datum.s == 'sd'"}],
             "mark": {"type": "line", "clip": true, "strokeWidth": 2},
             "encoding": {
               "detail": {"field": "b"},
               "color": {"field": "s", "type": "nominal", "scale": {"domain": ["mean", "sd", "sim"], "range": ["#000000", "#000000", "#ff0000"]}, "legend": {"orient": "none", "legendX": 165, "legendY": 1021, "direction": "horizontal", "labelExpr": "datum.label == 'mean' ? 'Volunteer mean' : datum.label == 'sd' ? '+/- 1 SD' : 'Simulation'", "encode": {"symbols": {"update": {"strokeWidth": {"signal": "(datum.value == 'sd' ? 2 : 4.5)"}}}}}},
               "strokeDash": {"field": "s", "type": "nominal", "scale": {"domain": ["mean", "sd", "sim"], "range": [[1, 0], [17, 12], [1, 0]]}, "legend": {"orient": "none", "legendX": 165, "legendY": 1021, "direction": "horizontal", "labelExpr": "datum.label == 'mean' ? 'Volunteer mean' : datum.label == 'sd' ? '+/- 1 SD' : 'Simulation'", "encode": {"symbols": {"update": {"strokeWidth": {"signal": "(datum.value == 'sd' ? 2 : 4.5)"}}}}}}
             }},
            {"data": {"name": "forces"}, "transform": [{"filter": "datum.p == 'b' && datum.s == 'mean'"}],
             "mark": {"type": "line", "clip": true, "strokeWidth": 4.5, "color": "#000000"}},
            {"data": {"name": "forces"}, "transform": [{"filter": "datum.p == 'b' && datum.s == 'sim'"}],
             "mark": {"type": "line", "clip": true, "strokeWidth": 4, "color": "#ff0000"}}
          ]
        },
        {"data": {"name": "labels"}, "transform": [{"filter": "datum.p == 'b'"}],
         "mark": {"type": "text", "align": "left", "baseline": "top", "dx": 5, "dy": -5, "fontSize": 23.5, "color": "#262626"},
         "encoding": {"x": {"datum": 0, "type": "quantitative"}, "y": {"datum": 500, "type": "quantitative"}, "text": {"field": "label"}}}
      ]
    },
    {
      "width": 371, "height": 241,
      "layer": [
        {
          "encoding": {
            "x": {"field": "t", "type": "quantitative", "scale": {"domain": [0, 2200], "nice": false, "zero": false}, "axis": {"values": [0, 500, 1000, 1500, 2000], "title": null}},
            "y": {"field": "f", "type": "quantitative", "scale": {"domain": [-50, 500], "nice": false}, "axis": {"values": [0, 200, 400], "title": ["Lap Belt", "Force [N]"]}}
          },
          "layer": [
            {"data": {"name": "forces"}, "transform": [{"filter": "datum.p == 'c' && datum.s == 'sd'"}],
             "mark": {"type": "line", "clip": true, "strokeWidth": 2},
             "encoding": {
               "detail": {"field": "b"},
               "color": {"field": "s", "type": "nominal", "scale": {"domain": ["mean", "sd", "sim"], "range": ["#000000", "#000000", "#ff0000"]}, "legend": {"orient": "none", "legendX": 165, "legendY": 1021, "direction": "horizontal", "labelExpr": "datum.label == 'mean' ? 'Volunteer mean' : datum.label == 'sd' ? '+/- 1 SD' : 'Simulation'", "encode": {"symbols": {"update": {"strokeWidth": {"signal": "(datum.value == 'sd' ? 2 : 4.5)"}}}}}},
               "strokeDash": {"field": "s", "type": "nominal", "scale": {"domain": ["mean", "sd", "sim"], "range": [[1, 0], [17, 12], [1, 0]]}, "legend": {"orient": "none", "legendX": 165, "legendY": 1021, "direction": "horizontal", "labelExpr": "datum.label == 'mean' ? 'Volunteer mean' : datum.label == 'sd' ? '+/- 1 SD' : 'Simulation'", "encode": {"symbols": {"update": {"strokeWidth": {"signal": "(datum.value == 'sd' ? 2 : 4.5)"}}}}}}
             }},
            {"data": {"name": "forces"}, "transform": [{"filter": "datum.p == 'c' && datum.s == 'mean'"}],
             "mark": {"type": "line", "clip": true, "strokeWidth": 4.5, "color": "#000000"}},
            {"data": {"name": "forces"}, "transform": [{"filter": "datum.p == 'c' && datum.s == 'sim'"}],
             "mark": {"type": "line", "clip": true, "strokeWidth": 4, "color": "#ff0000"}}
          ]
        },
        {"data": {"name": "labels"}, "transform": [{"filter": "datum.p == 'c'"}],
         "mark": {"type": "text", "align": "left", "baseline": "top", "dx": 5, "dy": -5, "fontSize": 23.5, "color": "#262626"},
         "encoding": {"x": {"datum": 0, "type": "quantitative"}, "y": {"datum": 500, "type": "quantitative"}, "text": {"field": "label"}}}
      ]
    },
    {
      "width": 402, "height": 241,
      "layer": [
        {
          "encoding": {
            "x": {"field": "t", "type": "quantitative", "scale": {"domain": [0, 2300], "nice": false, "zero": false}, "axis": {"values": [0, 500, 1000, 1500, 2000], "title": null}},
            "y": {"field": "f", "type": "quantitative", "scale": {"domain": [-50, 500], "nice": false}, "axis": {"values": [0, 200, 400], "title": null}}
          },
          "layer": [
            {"data": {"name": "forces"}, "transform": [{"filter": "datum.p == 'd' && datum.s == 'sd'"}],
             "mark": {"type": "line", "clip": true, "strokeWidth": 2},
             "encoding": {
               "detail": {"field": "b"},
               "color": {"field": "s", "type": "nominal", "scale": {"domain": ["mean", "sd", "sim"], "range": ["#000000", "#000000", "#ff0000"]}, "legend": {"orient": "none", "legendX": 165, "legendY": 1021, "direction": "horizontal", "labelExpr": "datum.label == 'mean' ? 'Volunteer mean' : datum.label == 'sd' ? '+/- 1 SD' : 'Simulation'", "encode": {"symbols": {"update": {"strokeWidth": {"signal": "(datum.value == 'sd' ? 2 : 4.5)"}}}}}},
               "strokeDash": {"field": "s", "type": "nominal", "scale": {"domain": ["mean", "sd", "sim"], "range": [[1, 0], [17, 12], [1, 0]]}, "legend": {"orient": "none", "legendX": 165, "legendY": 1021, "direction": "horizontal", "labelExpr": "datum.label == 'mean' ? 'Volunteer mean' : datum.label == 'sd' ? '+/- 1 SD' : 'Simulation'", "encode": {"symbols": {"update": {"strokeWidth": {"signal": "(datum.value == 'sd' ? 2 : 4.5)"}}}}}}
             }},
            {"data": {"name": "forces"}, "transform": [{"filter": "datum.p == 'd' && datum.s == 'mean'"}],
             "mark": {"type": "line", "clip": true, "strokeWidth": 4.5, "color": "#000000"}},
            {"data": {"name": "forces"}, "transform": [{"filter": "datum.p == 'd' && datum.s == 'sim'"}],
             "mark": {"type": "line", "clip": true, "strokeWidth": 4, "color": "#ff0000"}}
          ]
        },
        {"data": {"name": "labels"}, "transform": [{"filter": "datum.p == 'd'"}],
         "mark": {"type": "text", "align": "left", "baseline": "top", "dx": 5, "dy": -5, "fontSize": 23.5, "color": "#262626"},
         "encoding": {"x": {"datum": 0, "type": "quantitative"}, "y": {"datum": 500, "type": "quantitative"}, "text": {"field": "label"}}}
      ]
    },
    {
      "width": 371, "height": 241,
      "layer": [
        {
          "encoding": {
            "x": {"field": "t", "type": "quantitative", "scale": {"domain": [0, 2200], "nice": false, "zero": false}, "axis": {"values": [0, 500, 1000, 1500, 2000], "title": "Autobrake SB - Time (ms)"}},
            "y": {"field": "f", "type": "quantitative", "scale": {"domain": [-50, 500], "nice": false}, "axis": {"values": [0, 200, 400], "title": ["Footwell", "Force [N]"]}}
          },
          "layer": [
            {"data": {"name": "forces"}, "transform": [{"filter": "datum.p == 'e' && datum.s == 'sd'"}],
             "mark": {"type": "line", "clip": true, "strokeWidth": 2},
             "encoding": {
               "detail": {"field": "b"},
               "color": {"field": "s", "type": "nominal", "scale": {"domain": ["mean", "sd", "sim"], "range": ["#000000", "#000000", "#ff0000"]}, "legend": {"orient": "none", "legendX": 165, "legendY": 1021, "direction": "horizontal", "labelExpr": "datum.label == 'mean' ? 'Volunteer mean' : datum.label == 'sd' ? '+/- 1 SD' : 'Simulation'", "encode": {"symbols": {"update": {"strokeWidth": {"signal": "(datum.value == 'sd' ? 2 : 4.5)"}}}}}},
               "strokeDash": {"field": "s", "type": "nominal", "scale": {"domain": ["mean", "sd", "sim"], "range": [[1, 0], [17, 12], [1, 0]]}, "legend": {"orient": "none", "legendX": 165, "legendY": 1021, "direction": "horizontal", "labelExpr": "datum.label == 'mean' ? 'Volunteer mean' : datum.label == 'sd' ? '+/- 1 SD' : 'Simulation'", "encode": {"symbols": {"update": {"strokeWidth": {"signal": "(datum.value == 'sd' ? 2 : 4.5)"}}}}}}
             }},
            {"data": {"name": "forces"}, "transform": [{"filter": "datum.p == 'e' && datum.s == 'mean'"}],
             "mark": {"type": "line", "clip": true, "strokeWidth": 4.5, "color": "#000000"}},
            {"data": {"name": "forces"}, "transform": [{"filter": "datum.p == 'e' && datum.s == 'sim'"}],
             "mark": {"type": "line", "clip": true, "strokeWidth": 4, "color": "#ff0000"}}
          ]
        },
        {"data": {"name": "labels"}, "transform": [{"filter": "datum.p == 'e'"}],
         "mark": {"type": "text", "align": "left", "baseline": "top", "dx": 5, "dy": -5, "fontSize": 23.5, "color": "#262626"},
         "encoding": {"x": {"datum": 0, "type": "quantitative"}, "y": {"datum": 500, "type": "quantitative"}, "text": {"field": "label"}}}
      ]
    },
    {
      "width": 402, "height": 241,
      "layer": [
        {
          "encoding": {
            "x": {"field": "t", "type": "quantitative", "scale": {"domain": [0, 2300], "nice": false, "zero": false}, "axis": {"values": [0, 500, 1000, 1500, 2000], "title": "Autobrake PT - Time (ms)"}},
            "y": {"field": "f", "type": "quantitative", "scale": {"domain": [-50, 500], "nice": false}, "axis": {"values": [0, 200, 400], "title": null}}
          },
          "layer": [
            {"data": {"name": "forces"}, "transform": [{"filter": "datum.p == 'f' && datum.s == 'sd'"}],
             "mark": {"type": "line", "clip": true, "strokeWidth": 2},
             "encoding": {
               "detail": {"field": "b"},
               "color": {"field": "s", "type": "nominal", "scale": {"domain": ["mean", "sd", "sim"], "range": ["#000000", "#000000", "#ff0000"]}, "legend": {"orient": "none", "legendX": 165, "legendY": 1021, "direction": "horizontal", "labelExpr": "datum.label == 'mean' ? 'Volunteer mean' : datum.label == 'sd' ? '+/- 1 SD' : 'Simulation'", "encode": {"symbols": {"update": {"strokeWidth": {"signal": "(datum.value == 'sd' ? 2 : 4.5)"}}}}}},
               "strokeDash": {"field": "s", "type": "nominal", "scale": {"domain": ["mean", "sd", "sim"], "range": [[1, 0], [17, 12], [1, 0]]}, "legend": {"orient": "none", "legendX": 165, "legendY": 1021, "direction": "horizontal", "labelExpr": "datum.label == 'mean' ? 'Volunteer mean' : datum.label == 'sd' ? '+/- 1 SD' : 'Simulation'", "encode": {"symbols": {"update": {"strokeWidth": {"signal": "(datum.value == 'sd' ? 2 : 4.5)"}}}}}}
             }},
            {"data": {"name": "forces"}, "transform": [{"filter": "datum.p == 'f' && datum.s == 'mean'"}],
             "mark": {"type": "line", "clip": true, "strokeWidth": 4.5, "color": "#000000"}},
            {"data": {"name": "forces"}, "transform": [{"filter": "datum.p == 'f' && datum.s == 'sim'"}],
             "mark": {"type": "line", "clip": true, "strokeWidth": 4, "color": "#ff0000"}}
          ]
        },
        {"data": {"name": "labels"}, "transform": [{"filter": "datum.p == 'f'"}],
         "mark": {"type": "text", "align": "left", "baseline": "top", "dx": 5, "dy": -5, "fontSize": 23.5, "color": "#262626"},
         "encoding": {"x": {"datum": 0, "type": "quantitative"}, "y": {"datum": 500, "type": "quantitative"}, "text": {"field": "label"}}}
      ]
    }
  ]
}
